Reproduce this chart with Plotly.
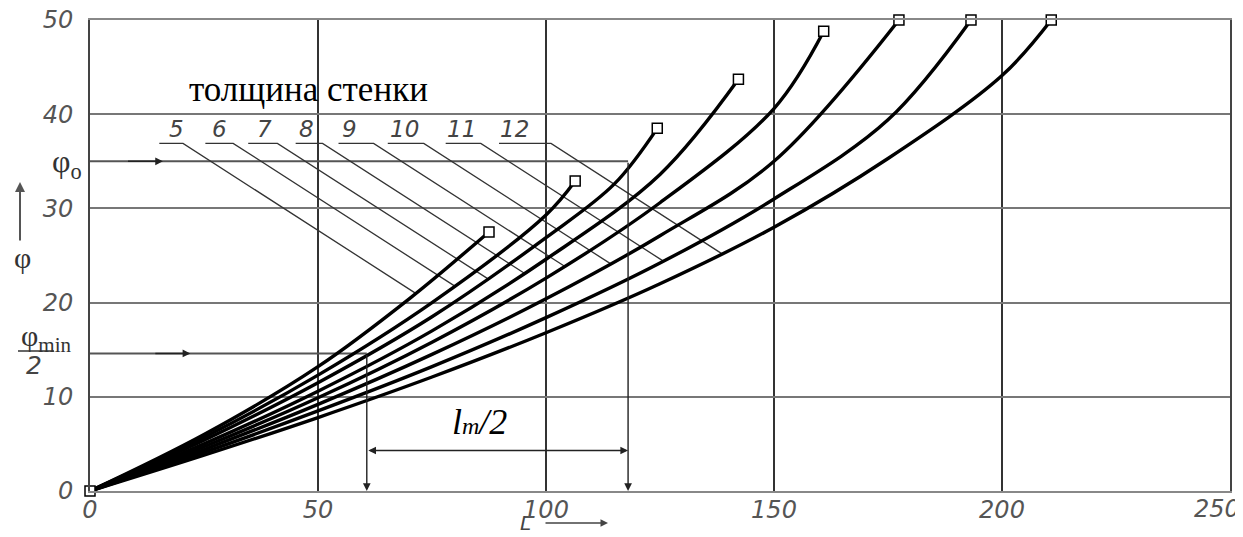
import numpy as np
import plotly.graph_objects as go

# ---------------- data ----------------
wall = [5, 6, 7, 8, 9, 10, 11, 12]
L_5 = [0, 25, 50, 70, 87.5]
phi_5 = [0, 6.0, 13.2, 20.4, 27.5]
L_6 = [0, 25, 50, 75, 100, 106.4]
phi_6 = [0, 5.7, 12.3, 20.0, 29.3, 32.9]
L_7 = [0, 25, 50, 75, 100, 115, 124.4]
phi_7 = [0, 5.4, 11.5, 18.5, 26.9, 32.6, 38.5]
L_8 = [0, 25, 50, 75, 100, 125, 142.2]
phi_8 = [0, 5.0, 10.6, 17.0, 24.6, 33.6, 43.7]
L_9 = [0, 25, 50, 75, 100, 125, 150, 160.9]
phi_9 = [0, 4.7, 9.9, 15.8, 22.6, 30.6, 40.6, 48.8]
L_10 = [0, 25, 50, 75, 100, 125, 150, 177.4]
phi_10 = [0, 4.4, 9.2, 14.5, 20.4, 27.1, 35.0, 50]
L_11 = [0, 25, 50, 75, 100, 125, 150, 175, 193.2]
phi_11 = [0, 4.1, 8.5, 13.2, 18.4, 24.2, 31.0, 39.4, 50]
L_12 = [0, 25, 50, 75, 100, 125, 150, 175, 200, 210.8]
phi_12 = [0, 3.8, 7.8, 12.1, 16.8, 22.0, 28.0, 35.3, 44.1, 50]

curves_L = [L_5, L_6, L_7, L_8, L_9, L_10, L_11, L_12]
curves_phi = [phi_5, phi_6, phi_7, phi_8, phi_9, phi_10, phi_11, phi_12]

# leader underlines (L from / to), label centres and their level
underline_from = [15.2, 25.3, 34.7, 45.1, 54.5, 65.3, 78.0, 89.7]
underline_to = [20.4, 31.4, 41.1, 51.0, 62.2, 73.2, 85.7, 101.1]
label_L = [18.9, 28.5, 38.3, 47.4, 57.0, 68.9, 81.4, 93.0]
underline_level = 36.9
leader_slope = -0.3116

x_ticks = [0, 50, 100, 150, 200]
x_last_tick = 250
y_ticks = [0, 10, 20, 30, 40, 50]

phi0 = 35.0
L_phi0 = 118.0
phimin_half = 14.6
L_phimin = 60.7
lm_level = 4.3

# ---------------- figure ----------------
OFF = 8  # page body margin
W, H = 1243 - OFF, 537 - OFF
# desired plot area on screen: x 90..1230, y 20..491
ML, MT = 90 - OFF, 20 - OFF
MR = W - (1230 - OFF)
MB = H - (491 - OFF)
PW, PH = W - ML - MR, H - MT - MB


def paper(px, py):
    # screen pixel -> paper coords
    return (px - OFF - ML) / PW, (H - MB - (py - OFF)) / PH


fig = go.Figure()


def ptext(px, py, text, font, xanchor="center", yanchor="middle"):
    x, y = paper(px, py)
    fig.add_annotation(x=x, y=y, xref="paper", yref="paper", text=text, showarrow=False,
                       xanchor=xanchor, yanchor=yanchor, font=font)


# construction lines phi0 and phimin/2
fig.add_trace(go.Scatter(x=[0, L_phi0], y=[phi0, phi0], mode="lines",
                         line=dict(color="#555", width=2), hoverinfo="skip"))
fig.add_trace(go.Scatter(x=[0, L_phimin], y=[phimin_half, phimin_half], mode="lines",
                         line=dict(color="#555", width=2), hoverinfo="skip"))

num_font = dict(family="DejaVu Sans", size=23, color="#444", style="italic")

# leader lines
for i, k in enumerate(wall):
    xs = np.linspace(0, curves_L[i][-1], 2000)
    cy = np.interp(xs, curves_L[i], curves_phi[i])
    ly = underline_level + leader_slope * (xs - underline_to[i])
    d = np.where(xs > underline_to[i], ly - cy, np.inf)
    j = int(np.argmin(np.abs(d)))
    fig.add_trace(go.Scatter(x=[underline_from[i], underline_to[i], xs[j]],
                             y=[underline_level, underline_level, cy[j]],
                             mode="lines", line=dict(color="#333", width=1.3),
                             hoverinfo="skip"))
    fig.add_annotation(x=label_L[i], y=underline_level,
                       text=str(k), showarrow=False, xanchor="center", yanchor="bottom",
                       yshift=-1, font=num_font)

# curves
for i, k in enumerate(wall):
    fig.add_trace(go.Scatter(x=curves_L[i], y=curves_phi[i], mode="lines",
                             line=dict(color="black", width=3.4, shape="spline", smoothing=1.0),
                             name=str(k), hoverinfo="skip"))

# end markers
fig.add_trace(go.Scatter(x=[c[-1] for c in curves_L] + [0],
                         y=[c[-1] for c in curves_phi] + [0],
                         mode="markers", cliponaxis=False,
                         marker=dict(symbol="square", size=10, color="white",
                                     line=dict(color="black", width=1.5)),
                         hoverinfo="skip"))

# arrows in data coords
arrow_kw = dict(xref="x", yref="y", axref="x", ayref="y", text="", showarrow=True,
                arrowhead=2, arrowsize=1.1, arrowwidth=1.4, arrowcolor="#222")
fig.add_annotation(x=L_phi0, y=0, ax=L_phi0, ay=phi0, **arrow_kw)
fig.add_annotation(x=L_phimin, y=0, ax=L_phimin, ay=phimin_half, **arrow_kw)
fig.add_annotation(x=16, y=phi0, ax=8, ay=phi0, **arrow_kw)
fig.add_annotation(x=22, y=phimin_half, ax=14, ay=phimin_half, **arrow_kw)
fig.add_annotation(x=L_phi0, y=lm_level, ax=L_phimin, ay=lm_level, arrowside="end+start",
                   **arrow_kw)

fig.add_annotation(x=(L_phi0 + L_phimin) / 2 - 4, y=lm_level, xanchor="center",
                   yanchor="bottom", yshift=6,
                   text="<i>l<span style='font-size:24px'>m</span>/2</i>", showarrow=False,
                   font=dict(family="Liberation Serif", size=36, color="black"))

ptext(308, 90, "толщина стенки", dict(family="Liberation Serif", size=35, color="black"))

# left side labels
ptext(84, 163, "φ<sub>o</sub>", dict(family="Liberation Serif", size=32, color="#333"),
      xanchor="right")
ptext(46, 338, "φ<sub>min</sub>", dict(family="Liberation Serif", size=30, color="#333"))
ptext(34, 365, "2", dict(family="DejaVu Sans", size=25, color="#444", style="italic"))
x0, y0 = paper(18, 351)
x1, _ = paper(54, 351)
fig.add_shape(type="line", xref="paper", yref="paper", x0=x0, x1=x1, y0=y0, y1=y0,
              line=dict(color="#333", width=1.5))

tick_font = dict(family="DejaVu Sans", size=24, color="#555", style="italic")

# last x tick label (kept inside the page)
fig.add_annotation(x=x_last_tick, y=0, xref="x", yref="y", text=str(x_last_tick),
                   showarrow=False, xanchor="right", yanchor="middle", xshift=12, yshift=-18,
                   font=tick_font)

# axis titles with arrows
ptext(22, 257, "φ", dict(family="Liberation Serif", size=30, color="#333"))
hx, hy = paper(20, 182)
fig.add_annotation(x=hx, y=hy, xref="paper", yref="paper", text="", showarrow=True,
                   ax=0, ay=60, arrowhead=2, arrowsize=1, arrowwidth=2, arrowcolor="#555")
ptext(525, 523, "L", dict(family="DejaVu Sans", size=20, color="#444", style="italic"))
hx, hy = paper(608, 523)
fig.add_annotation(x=hx, y=hy, xref="paper", yref="paper", text="", showarrow=True,
                   ax=-64, ay=0, arrowhead=2, arrowsize=1, arrowwidth=1.5, arrowcolor="#444")

fig.update_xaxes(range=[0, 250], tickvals=x_ticks + [x_last_tick],
                 ticktext=[str(v) for v in x_ticks] + [""],
                 showgrid=True, gridcolor="#333", gridwidth=1.5, zeroline=False,
                 showline=True, linecolor="#888", linewidth=2, mirror=True,
                 ticks="", tickfont=tick_font, fixedrange=True, automargin=False,
                 ticklabeloverflow="allow", ticklabelstandoff=-4)
fig.update_yaxes(range=[0, 50], tickvals=y_ticks, ticktext=[str(v) for v in y_ticks],
                 showgrid=True, gridcolor="#777", gridwidth=2, zeroline=False,
                 showline=True, linecolor="#444", linewidth=2, mirror=True,
                 ticks="", tickfont=tick_font, ticklabelstandoff=10, fixedrange=True,
                 automargin=False, ticklabeloverflow="allow")

fig.update_layout(width=W, height=H, margin=dict(l=ML, r=MR, t=MT, b=MB),
                  paper_bgcolor="white", plot_bgcolor="white", showlegend=False)

fig.write_html("out.html")
